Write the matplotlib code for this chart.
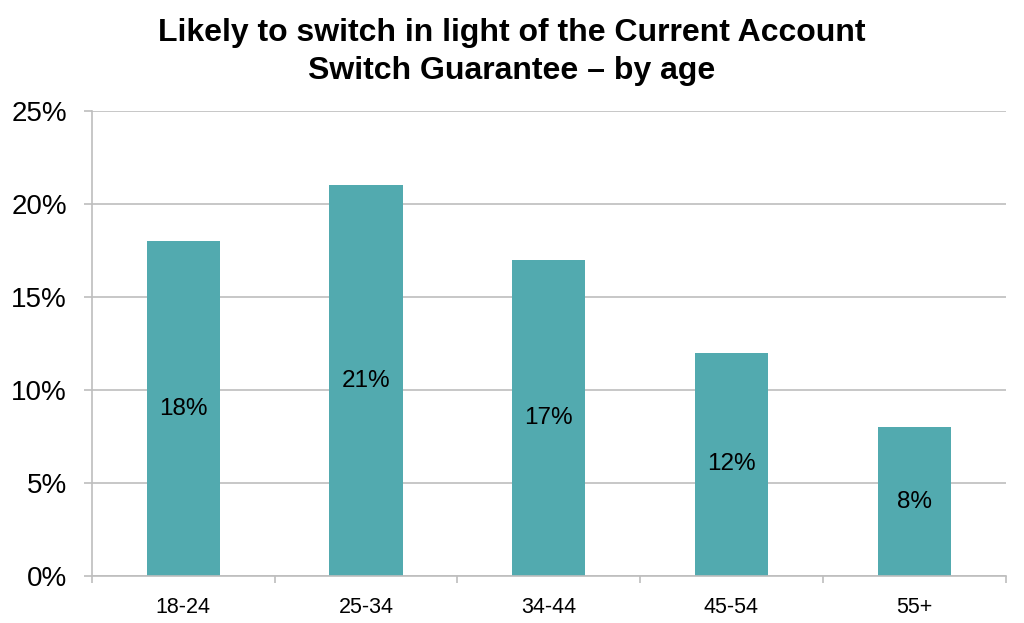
import matplotlib
matplotlib.use('Agg')
import matplotlib.pyplot as plt
from matplotlib.ticker import FuncFormatter, MultipleLocator, FixedLocator, NullFormatter

plt.rcParams['font.family'] = ['Liberation Sans', 'DejaVu Sans']

# data
age_groups = ['18-24', '25-34', '34-44', '45-54', '55+']
likely_pct = [18, 21, 17, 12, 8]

bar_color = '#52AAAF'
grid_color = '#BEBEBE'

fig = plt.figure(figsize=(10.24, 6.23), dpi=100)
ax = fig.add_axes([0.0898, 0.0754, 0.8922, 0.7466])

x = range(len(age_groups))
bars = ax.bar(x, likely_pct, width=0.4, color=bar_color, zorder=2)

# labels in the middle of each bar
for b, v in zip(bars, likely_pct):
    ax.text(b.get_x() + b.get_width() / 2, v / 2, f'{v}%',
            ha='center', va='center', fontsize=17.5, color='black', zorder=3)

ax.set_xlim(-0.5, len(age_groups) - 0.5)
ax.set_ylim(0, 25)
ax.yaxis.set_major_locator(MultipleLocator(5))
ax.yaxis.set_major_formatter(FuncFormatter(lambda v, p: f'{v:.0f}%'))
ax.tick_params(axis='y', labelsize=20, length=6, color=grid_color, width=1.2, pad=12)

# category labels centred, ticks on category boundaries
ax.set_xticks(list(x))
ax.set_xticklabels(age_groups)
ax.tick_params(axis='x', which='major', length=0, labelsize=15.5, pad=15)
ax.xaxis.set_minor_locator(FixedLocator([i - 0.5 for i in range(len(age_groups) + 1)]))
ax.xaxis.set_minor_formatter(NullFormatter())
ax.tick_params(axis='x', which='minor', length=5, color=grid_color, width=1.2)

ax.grid(axis='y', color=grid_color, linewidth=1.2, zorder=0)
ax.set_axisbelow(True)
for s in ['top', 'right']:
    ax.spines[s].set_visible(False)
for s in ['left', 'bottom']:
    ax.spines[s].set_color(grid_color)
    ax.spines[s].set_linewidth(1.2)

fig.text(0.5, 0.916, 'Likely to switch in light of the Current Account\nSwitch Guarantee \u2013 by age',
         ha='center', va='center', fontsize=23, fontweight='bold', linespacing=1.35)

fig.savefig('out.png', dpi=100)
